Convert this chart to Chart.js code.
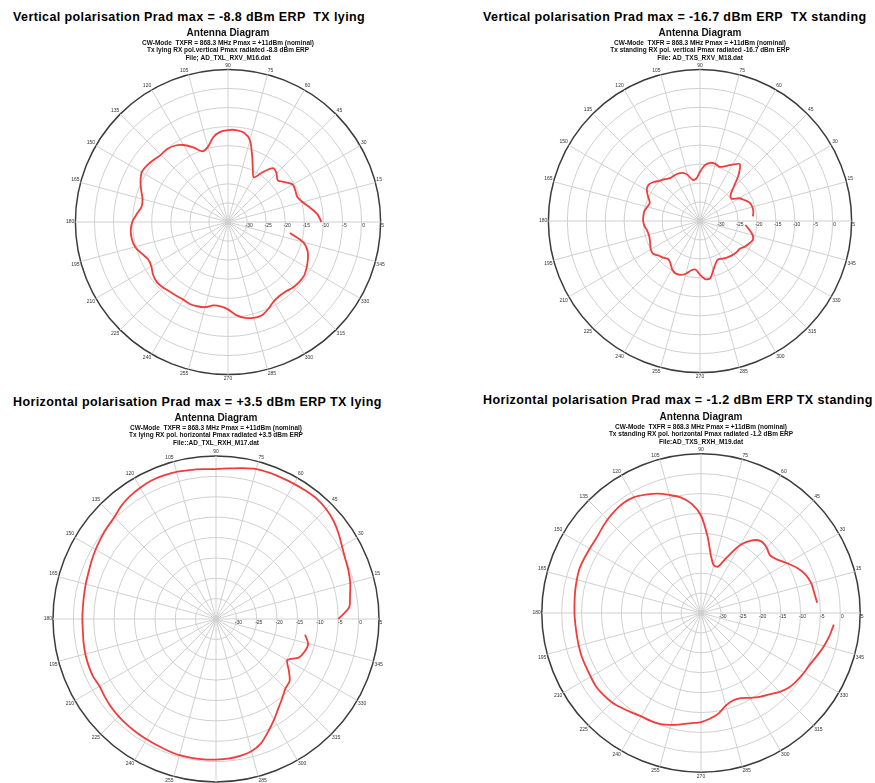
<!DOCTYPE html>
<html>
<head>
<meta charset="utf-8">
<script src="https://cdn.jsdelivr.net/npm/chart.js@4.4.1/dist/chart.umd.min.js"></script>
<style>
  body { margin: 0; background: #fff; width: 875px; height: 783px; overflow: hidden; position: relative; font-family: "Liberation Sans", Arial, sans-serif; }
  .head { position: absolute; font-weight: bold; font-size: 12.5px; letter-spacing: 0.4px; white-space: pre; line-height: 15px; color: #000; }
  canvas { position: absolute; }
</style>
</head>
<body>
<div class="head" style="left:13px;top:10px">Vertical polarisation Prad max = -8.8 dBm ERP  TX lying</div>
<div class="head" style="left:483px;top:10px">Vertical polarisation Prad max = -16.7 dBm ERP  TX standing</div>
<div class="head" style="left:13px;top:395px">Horizontal polarisation Prad max = +3.5 dBm ERP TX lying</div>
<div class="head" style="left:483px;top:393px">Horizontal polarisation Prad max = -1.2 dBm ERP TX standing</div>

<canvas id="c1" width="440" height="358" style="left:8px;top:25px"></canvas>
<canvas id="c2" width="350" height="355" style="left:525px;top:25px"></canvas>
<canvas id="c3" width="420" height="379" style="left:6px;top:410px"></canvas>
<canvas id="c4" width="348" height="371" style="left:527px;top:409px"></canvas>

<script>
const FONT = '"Liberation Sans", Arial, sans-serif';

// angle in degrees (0 = right, counter-clockwise)
const angles = [0, 5, 10, 15, 20, 25, 30, 35, 40, 45, 50, 55, 60, 65, 70, 75, 80, 85,
  90, 95, 100, 105, 110, 115, 120, 125, 130, 135, 140, 145, 150, 155, 160, 165, 170, 175,
  180, 185, 190, 195, 200, 205, 210, 215, 220, 225, 230, 235, 240, 245, 250, 255, 260, 265,
  270, 275, 280, 285, 290, 295, 300, 305, 310, 315, 320, 325, 330, 335, 340, 345, 350, 355];

const radialTicks = [-30, -25, -20, -15, -10, -5, 0, 5];

// received level in dBm, one value per angle
const vLying = [-10.5, -11.5, -13.2, -14.8, -15.7, -15.5, -15.4, -16.8, -18.0, -17.0, -16.6, -19.0,
  -21.5, -19.6, -16.5, -12.8, -11.2, -10.8, -10.9, -11.3, -12.5, -14.6, -15.3, -13.4,
  -11.7, -10.6, -10.1, -10.1, -9.6, -9.1, -8.9, -9.7, -10.8, -11.8, -12.0, -11.0,
  -9.9, -9.4, -9.4, -9.8, -10.9, -11.9, -11.8, -11.0, -10.6, -10.8, -11.2, -11.4,
  -11.5, -11.3, -11.5, -11.9, -12.8, -12.8, -12.1, -10.5, -9.5, -9.0, -9.0, -9.9,
  -11.0, -11.4, -11.3, -10.8, -10.6, -10.6, -11.2, -11.9, -12.8, -14.6, -18.5, null];

const vStanding = [null, -21.0, -20.7, -20.7, -21.0, -22.0, -23.0, -24.8, -24.5, -22.5, -19.2, -16.7,
  -17.8, -19.0, -19.8, -19.4, -19.4, -20.2, -22.0, -23.8, -24.0, -22.4, -21.5, -21.2,
  -21.2, -21.2, -20.6, -20.0, -19.0, -18.4, -18.8, -19.9, -20.9, -20.6, -20.1, -20.0,
  -20.0, -20.3, -20.8, -21.0, -20.9, -20.5, -20.0, -19.9, -20.8, -21.3, -21.9, -21.4,
  -20.3, -19.7, -19.9, -20.6, -21.8, -22.1, -20.8, -19.6, -19.6, -21.5, -23.0, -23.8,
  -23.5, -23.1, -22.8, -22.5, -22.3, -22.2, -21.4, -20.8, -20.2, -20.6, -21.8, -23.0];

const hLying = [-5.0, -2.2, -1.6, -0.9, -0.4, 0.0, 0.7, 1.7, 2.6, 3.2, 3.5, 3.4,
  3.3, 3.2, 3.2, 3.1, 2.6, 2.1, 1.8, 1.9, 2.1, 2.4, 2.5, 2.5,
  2.2, 1.8, 1.2, 0.3, -0.1, -0.5, -0.9, -1.3, -1.7, -1.9, -2.1, -2.2,
  -2.2, -2.2, -2.0, -1.8, -1.7, -1.7, -2.0, -1.7, -1.4, -1.2, -1.1, -1.0,
  -0.9, -0.8, -0.6, -0.4, -0.4, -0.4, -0.5, -0.6, -0.9, -1.4, -2.6, -4.6,
  -6.5, -8.3, -9.7, -10.9, -11.4, -13.2, -14.8, -12.6, -11.8, -11.6, -12.8, null];

const hStanding = [null, -5.7, -6.1, -6.3, -7.0, -8.3, -10.0, -11.6, -12.4, -11.7, -11.5, -12.7,
  -15.3, -19.5, -22.6, -22.6, -20.5, -15.8, -10.5, -7.4, -5.5, -4.3, -3.1, -2.2,
  -1.4, -1.2, -1.4, -1.8, -2.3, -2.7, -2.7, -2.6, -2.5, -2.7, -2.9, -3.1,
  -3.2, -3.3, -3.3, -3.2, -3.1, -3.1, -3.0, -2.8, -3.0, -3.3, -3.9, -4.5,
  -5.0, -5.1, -5.3, -5.9, -6.6, -7.2, -7.6, -8.4, -9.4, -10.9, -11.6, -11.4,
  -10.4, -9.3, -8.3, -7.0, -6.0, -5.5, -5.1, -4.7, -3.9, -3.0, -2.2, -1.5];

const line1 = 'CW-Mode  TXFR = 868.3 MHz Pmax = +11dBm (nominal)';

// dB labels along the 0 degree spoke
const tickLabels = {
  id: 'tickLabels',
  afterDatasetsDraw(chart) {
    const s = chart.scales.r;
    const ctx = chart.ctx;
    ctx.save();
    ctx.font = '5px ' + FONT;
    ctx.fillStyle = '#333';
    ctx.textAlign = 'center';
    ctx.textBaseline = 'middle';
    radialTicks.forEach(v => {
      ctx.fillText(String(v), s.xCenter + s.getDistanceFromCenterForValue(v) + 2, s.yCenter + 3.5);
    });
    ctx.restore();
  }
};

function polar(id, values, subtitle, subPad) {
  const n = angles.length;
  // radar runs clockwise, so walk the angles backwards starting at 0
  const order = angles.map((a, i) => (n - i) % n);

  return new Chart(document.getElementById(id), {
    type: 'radar',
    data: {
      labels: order.map(i => angles[i]),
      datasets: [{
        data: order.map(i => values[i]),
        borderColor: '#f23c3c',
        borderWidth: 1.8,
        pointRadius: 0,
        fill: false,
        tension: 0.25,
        spanGaps: false
      }]
    },
    options: {
      responsive: false,
      animation: false,
      layout: { padding: 0 },
      plugins: {
        legend: { display: false },
        tooltip: { enabled: false },
        title: {
          display: true,
          text: 'Antenna Diagram',
          color: '#111',
          font: { family: FONT, size: 10, weight: 'bold' },
          padding: { top: 2, bottom: 0 }
        },
        subtitle: {
          display: true,
          text: subtitle,
          color: '#111',
          font: { family: FONT, size: 6.5, weight: 'bold' },
          padding: { top: 0, bottom: subPad }
        }
      },
      scales: {
        r: {
          min: -35,
          max: 5,
          startAngle: 90,
          ticks: { stepSize: 5, display: false },
          grid: {
            circular: true,
            color: c => (c.tick && c.tick.value === 5) ? '#3c3c3c' : '#d0d0d0',
            lineWidth: c => (c.tick && c.tick.value === 5) ? 1.5 : 1
          },
          angleLines: {
            color: c => c.index % 3 === 0 ? '#d0d0d0' : 'rgba(0,0,0,0)',
            lineWidth: 1
          },
          pointLabels: {
            font: { family: FONT, size: 5 },
            color: '#333',
            padding: 1,
            callback: (v, i) => (i % 3 === 0 && i !== 0) ? String(v) : ''
          }
        }
      }
    },
    plugins: [tickLabels]
  });
}

polar('c1', vLying, [line1, 'Tx lying RX pol.vertical Pmax radiated -8.8 dBm ERP', 'File; AD_TXL_RXV_M16.dat'], 0);
polar('c2', vStanding, [line1, 'Tx standing RX pol. vertical Pmax radiated -16.7 dBm ERP', 'File: AD_TXS_RXV_M18.dat'], 0);
polar('c3', hLying, [line1, 'Tx lying RX pol. horizontal Pmax radiated +3.5 dBm ERP', 'File::AD_TXL_RXH_M17.dat'], 1.6);
polar('c4', hStanding, [line1, 'Tx standing RX pol. horizontal Pmax radiated -1.2 dBm ERP', 'File:AD_TXS_RXH_M19.dat'], 0.4);
</script>
</body>
</html>
